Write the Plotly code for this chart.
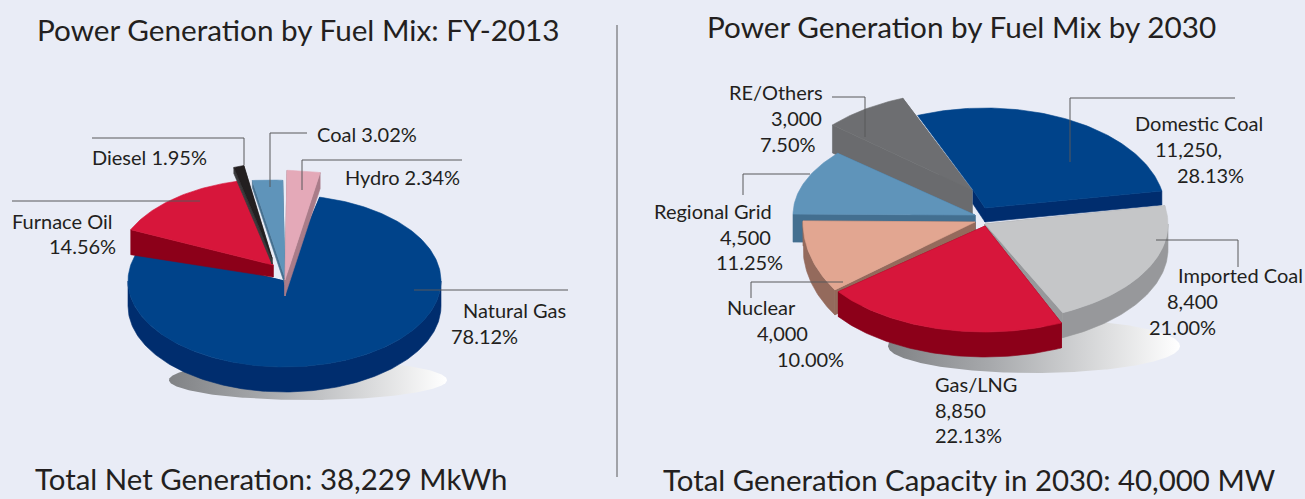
import numpy as np
import plotly.graph_objects as go

# ---------- data ----------
fuels_2013 = ["Natural Gas", "Furnace Oil", "Diesel", "Coal", "Hydro"]
shares_2013 = [78.12, 14.56, 1.95, 3.02, 2.34]
fuels_2030 = ["Domestic Coal", "Imported Coal", "Gas/LNG", "Nuclear", "Regional Grid", "RE/Others"]
capacity_2030 = [11250, 8400, 8850, 4000, 4500, 3000]
shares_2030 = [28.13, 21.00, 22.13, 10.00, 11.25, 7.50]
title_2013 = "Power Generation by Fuel Mix: FY-2013"
title_2030 = "Power Generation by Fuel Mix by 2030"
total_2013 = "Total Net Generation: 38,229 MkWh"
total_2030 = "Total Generation Capacity in 2030: 40,000 MW"

BG = "#e9ecf6"
TXT = "#231f20"
LEAD = "#58595b"
FONT = "Lato"

fig = go.Figure()


def arc(t0, t1, cx, cy, rx, ry):
    t = np.radians(np.linspace(t0, t1, max(int(abs(t1 - t0)) + 1, 6)))
    return cx + rx * np.sin(t), cy - ry * np.cos(t)


def poly(x, y, color, line=None, width=0.6):
    fig.add_trace(go.Scatter(x=list(x), y=list(y), mode="lines", fill="toself", fillcolor=color,
                             line=dict(color=line or color, width=width), hoverinfo="skip", showlegend=False))


def slice3d(t0, t1, geom, top, wall):
    cx, cy, rx, ry, depth = geom["c"]
    ax, ay = geom.get("apex", (cx, cy))
    bx, by = geom.get("notch", (ax, ay))  # point joined to the arc start
    d0 = geom.get("apex_depth", depth)
    ox, oy = arc(t0, t1, cx, cy, rx, ry)
    # cut faces
    faces = [((ax, ay), (ox[-1], oy[-1]), d0, depth), ((ax, ay), (bx, by), d0, d0)]
    if not geom.get("skip_start"):
        faces.append(((bx, by), (ox[0], oy[0]), d0, depth))
    for (x0, y0), (x1, y1), da, db in faces:
        poly([x0, x1, x1, x0, x0], [y0, y1, y1 + db, y0 + da, y0], wall)
    # rim: only the part facing the viewer
    f0, f1 = max(t0, 90), min(t1, 270)
    if f1 > f0:
        fx, fy = arc(f0, f1, cx, cy, rx, ry)
        poly(np.r_[fx, fx[::-1], fx[0]], np.r_[fy, fy[::-1] + depth, fy[0]], wall)
    poly(np.r_[bx, ox, ax, bx], np.r_[by, oy, ay, by], top)


def shadow(cx, cy, rx, ry):
    x, y = arc(0, 360, cx, cy, rx, ry)
    fig.add_trace(go.Scatter(x=list(x), y=list(y), mode="lines", fill="toself", line=dict(width=0),
                             fillgradient=dict(type="horizontal",
                                               colorscale=[[0, "#808285"], [0.35, "#a7a9ac"], [1, "#ffffff"]]),
                             hoverinfo="skip", showlegend=False))


def draw_pie(start, shares, order, geoms, tops, walls):
    spans = {}
    a = start
    for i, s in enumerate(shares):
        b = a + s * 3.6
        spans[i] = (a, b)
        a = b
    for i in order:
        slice3d(*spans[i], geoms[i], tops[i], walls[i])


# ---------- left pie ----------
shadow(308, 380, 139, 20)
draw_pie(13, shares_2013, [0, 1, 2, 3, 4],
         {0: dict(c=(284.5, 281, 156.5, 86, 25)),
          1: dict(c=(273, 265, 156, 86, 25), apex=(273, 265), apex_depth=12),
          2: dict(c=(253, 257, 83, 92, 6), apex=(272, 258)),
          3: dict(c=(270, 265, 160, 85, 7), apex=(285, 278)),
          4: dict(c=(269, 270, 228, 100, 16), apex=(285, 280))},
         ["#00438a", "#d7163b", "#231f20", "#5f94ba", "#e4a9b8"],
         ["#002d6e", "#8c0019", "#3a3a3c", "#46708f", "#a97c89"])

# ---------- right pie ----------
shadow(1034, 346, 146, 27)
draw_pie(-22, shares_2030, [5, 0, 4, 3, 1, 2],
         {0: dict(c=(985, 210, 180, 102, 14), apex=(985, 208), notch=(973, 190), skip_start=True, apex_depth=14),
          1: dict(c=(985, 224, 183, 98, 25)),
          2: dict(c=(985, 236, 180, 96, 25), apex=(985, 226)),
          3: dict(c=(975, 222, 172, 117, 25)),
          4: dict(c=(975, 215, 182, 94, 28)),
          5: dict(c=(972, 190, 185, 99, 28))},
         ["#00438a", "#c5c6c8", "#d7163b", "#e2a691", "#5f94ba", "#6d6e71"],
         ["#002d6e", "#97989b", "#8c0019", "#946a5c", "#436f90", "#6a6b6e"])

# ---------- leader lines ----------
leaders = [
    [(92, 138), (244, 138), (244, 165)],
    [(307, 133), (270, 133), (270, 187)],
    [(462, 160), (302, 160), (302, 190)],
    [(12, 201), (200, 201)],
    [(414, 290), (568, 290)],
    [(832, 97), (865, 97), (865, 137)],
    [(1235, 98), (1070, 98), (1070, 162)],
    [(743, 195), (743, 174), (810, 174)],
    [(1156, 240), (1238, 240), (1238, 267)],
    [(751, 298), (751, 282), (843, 282)],
    [(617, 25), (617, 477)],
]
for pts in leaders:
    fig.add_trace(go.Scatter(x=[p[0] for p in pts], y=[p[1] for p in pts], mode="lines",
                             line=dict(color=LEAD, width=1), hoverinfo="skip", showlegend=False))


# ---------- text ----------
def label(x, y, text, size=20):
    fig.add_annotation(x=x - 1.5, y=y - 1, text=text, showarrow=False, xanchor="left", yanchor="middle",
                       font=dict(family=FONT, size=size, color=TXT), xref="x", yref="y",
                       borderpad=0, align="left")


def pct(v):
    return f"{v:.2f}%"


label(37, 30, title_2013, 29.7)
label(707, 27, title_2030, 29.7)
label(35, 479, total_2013, 29.4)
label(663, 480.5, total_2030, 29.4)

label(463, 311, fuels_2013[0])
label(451, 337, pct(shares_2013[0]))
label(12, 222, fuels_2013[1])
label(49, 247, pct(shares_2013[1]))
label(92, 158, f"{fuels_2013[2]} {pct(shares_2013[2])}")
label(317, 135, f"{fuels_2013[3]} {pct(shares_2013[3])}")
label(345, 178, f"{fuels_2013[4]} {pct(shares_2013[4])}")

label(1135, 124, fuels_2030[0])
label(1155, 150, f"{capacity_2030[0]:,},")
label(1177, 176, pct(shares_2030[0]))
label(1178, 276, fuels_2030[1])
label(1167, 302, f"{capacity_2030[1]:,}")
label(1149, 328, pct(shares_2030[1]))
label(935, 385, fuels_2030[2])
label(935, 411, f"{capacity_2030[2]:,}")
label(935, 436, pct(shares_2030[2]))
label(727, 308, fuels_2030[3])
label(757, 334, f"{capacity_2030[3]:,}")
label(777, 360, pct(shares_2030[3]))
label(654, 212, fuels_2030[4])
label(720, 238, f"{capacity_2030[4]:,}")
label(716, 263, pct(shares_2030[4]))
label(729, 93, fuels_2030[5])
label(771, 119, f"{capacity_2030[5]:,}")
label(760, 145, pct(shares_2030[5]))

fig.update_layout(width=1305, height=499, margin=dict(l=0, r=0, t=0, b=0),
                  paper_bgcolor=BG, plot_bgcolor=BG, showlegend=False,
                  xaxis=dict(range=[0, 1305], visible=False, fixedrange=True),
                  yaxis=dict(range=[499, 0], visible=False, fixedrange=True))

fig.write_html("out.html", config=dict(displayModeBar=False),
               post_script=f"document.body.style.margin='0';document.body.style.background='{BG}';document.body.style.overflow='hidden';")
